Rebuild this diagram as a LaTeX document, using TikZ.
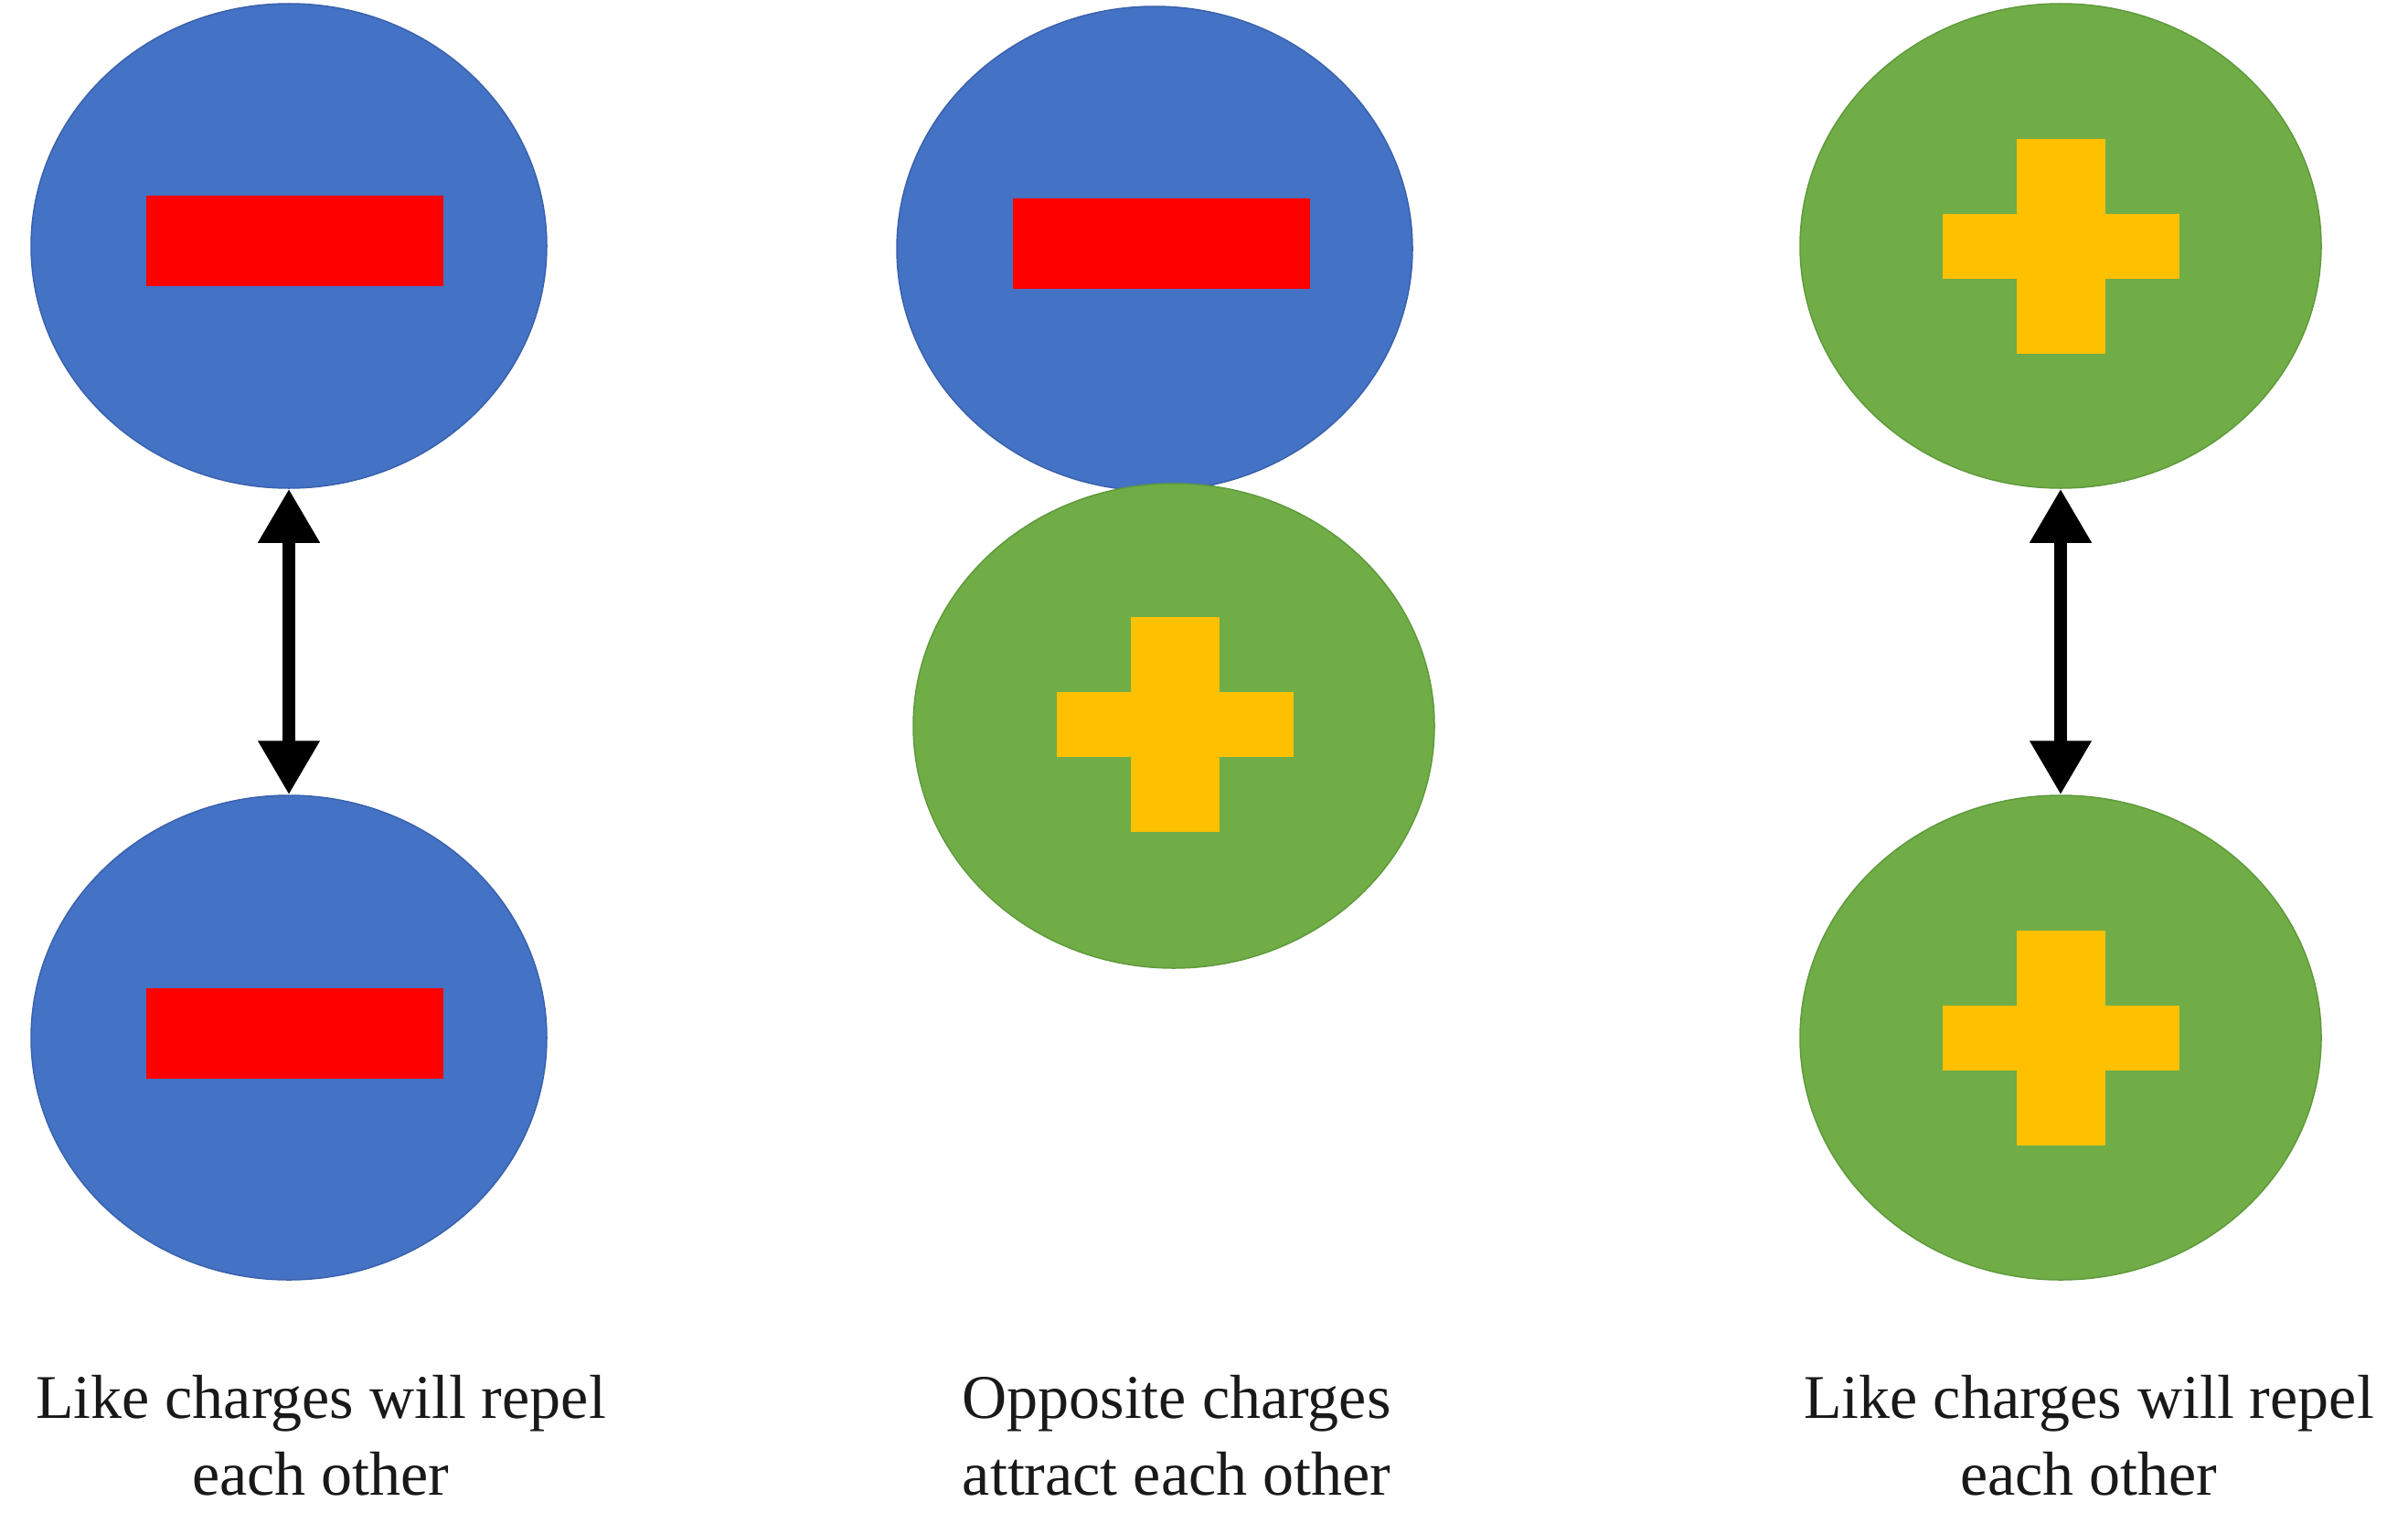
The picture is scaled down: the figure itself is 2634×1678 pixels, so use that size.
\documentclass[tikz,border=0pt]{standalone}
\usepackage{fontspec}
\setmainfont{Liberation Serif}
\usetikzlibrary{shapes.geometric,arrows.meta}
\definecolor{chblue}{HTML}{4472C4}
\definecolor{chblueedge}{HTML}{3A62AC}
\definecolor{chgreen}{HTML}{70AD47}
\definecolor{chgreenedge}{HTML}{5F9A3B}
\definecolor{chred}{HTML}{FF0000}
\definecolor{chyellow}{HTML}{FFC000}
\begin{document}
\begin{tikzpicture}[x=1pt,y=-1pt,
  charge/.style={ellipse, inner sep=0pt, minimum height=530pt, line width=1.5pt},
  negball/.style={charge, fill=chblue, draw=chblueedge, minimum width=564pt},
  posball/.style={charge, fill=chgreen, draw=chgreenedge, minimum width=570pt},
  minusbar/.style={rectangle, inner sep=0pt, fill=chred, minimum width=325pt, minimum height=99pt},
  plush/.style={rectangle, inner sep=0pt, fill=chyellow, minimum width=259pt, minimum height=71pt},
  plusv/.style={rectangle, inner sep=0pt, fill=chyellow, minimum width=97pt, minimum height=235pt},
  twoway/.style={line width=14pt, {Triangle[width=64pt,length=59pt]}-{Triangle[width=64pt,length=59pt]}},
  captxt/.style={anchor=north, align=center, inner sep=0pt, text=black!90, font=\fontsize{68}{84}\selectfont}]
\path[use as bounding box] (0,0) rectangle (2634,1678);

% left column: two negative charges
\node[negball] (t1) at (316,269) {};
\node[minusbar] (m1) at (322,263) {};
\node[negball] (b1) at (316,1135) {};
\node[minusbar] (m2) at (322,1130) {};
\draw[twoway] (t1.south) -- (b1.north);

% middle column: opposite charges
\node[negball] (t2) at (1263,272) {};
\node[minusbar] (m3) at (1270,266) {};
\node[posball] (b2) at (1284,794) {};
\node[plush] (p1h) at (1285,792) {};
\node[plusv] (p1v) at (1285,792) {};

% right column: two positive charges
\node[posball] (t3) at (2254,269) {};
\node[plush] (p2h) at (2254,269) {};
\node[plusv] (p2v) at (2254,269) {};
\node[posball] (b3) at (2254,1135) {};
\node[plush] (p3h) at (2254,1135) {};
\node[plusv] (p3v) at (2254,1135) {};
\draw[twoway] (t3.south) -- (b3.north);

% captions
\node[captxt] (c1) at (351,1504) {Like charges will repel\\each other};
\node[captxt] (c2) at (1287,1504) {Opposite charges\\attract each other};
\node[captxt] (c3) at (2285,1504) {Like charges will repel\\each other};
\end{tikzpicture}
\end{document}
